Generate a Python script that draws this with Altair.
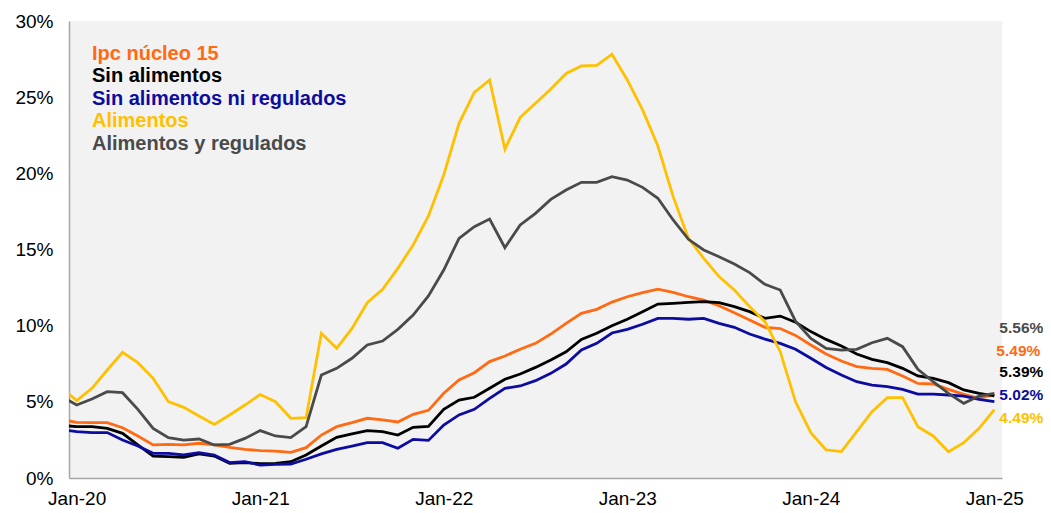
import altair as alt
import pandas as pd

# month index: -1 = Dec-19 (partly visible at the left edge), 0 = Jan-20 ... 60 = Jan-25
month_index = list(range(-1, 61))

nucleo = [3.83,
          3.65, 3.63, 3.63, 3.30, 2.76, 2.17, 2.21, 2.17, 2.28, 2.17, 2.01, 1.88,
          1.80, 1.77, 1.68, 1.99, 2.82, 3.37, 3.63, 3.92, 3.81, 3.68, 4.18, 4.44,
          5.56, 6.43, 6.91, 7.64, 8.01, 8.45, 8.84, 9.45, 10.15, 10.81, 11.07, 11.55,
          11.90, 12.17, 12.40, 12.19, 11.90, 11.68, 11.31, 10.85, 10.37, 9.89, 9.81, 9.36,
          8.73, 8.14, 7.68, 7.31, 7.20, 7.13, 6.70, 6.21, 6.17, 5.82, 5.49, 5.23,
          5.49]
sin_alimentos = [3.46,
                 3.37, 3.37, 3.26, 2.93, 2.17, 1.44, 1.40, 1.36, 1.58, 1.44, 0.96, 1.01,
                 0.95, 0.96, 1.07, 1.51, 2.10, 2.67, 2.89, 3.11, 3.04, 2.82, 3.33, 3.39,
                 4.51, 5.12, 5.30, 5.89, 6.48, 6.83, 7.26, 7.75, 8.29, 9.10, 9.50, 9.99,
                 10.42, 10.92, 11.42, 11.47, 11.53, 11.58, 11.51, 11.25, 10.92, 10.48, 10.63, 10.23,
                 9.61, 9.10, 8.67, 8.14, 7.79, 7.57, 7.20, 6.70, 6.54, 6.26, 5.78, 5.56,
                 5.39]
sin_alimentos_ni_regulados = [3.17,
                              3.04, 2.98, 2.98, 2.49, 2.10, 1.62, 1.62, 1.51, 1.66, 1.51, 1.01, 1.07,
                              0.85, 0.90, 0.92, 1.23, 1.58, 1.88, 2.10, 2.32, 2.32, 1.95, 2.54, 2.47,
                              3.48, 4.14, 4.51, 5.23, 5.89, 6.04, 6.39, 6.87, 7.48, 8.40, 8.84, 9.52,
                              9.76, 10.09, 10.48, 10.48, 10.42, 10.48, 10.15, 9.89, 9.45, 9.12, 8.84, 8.45,
                              7.86, 7.26, 6.76, 6.32, 6.10, 6.00, 5.82, 5.51, 5.51, 5.45, 5.38, 5.16,
                              5.02]
alimentos = [5.95,
             5.08, 5.89, 7.09, 8.25, 7.57, 6.54, 5.01, 4.64, 4.07, 3.52, 4.14, 4.79,
             5.48, 5.01, 3.92, 3.96, 9.50, 8.51, 9.82, 11.51, 12.39, 13.76, 15.30, 17.20,
             19.89, 23.28, 25.32, 26.13, 21.58, 23.68, 24.60, 25.54, 26.56, 27.05, 27.09, 27.82,
             26.13, 24.16, 21.79, 18.47, 15.73, 14.42, 13.22, 12.34, 11.25, 10.26, 8.29, 5.00,
             2.98, 1.84, 1.73, 3.04, 4.35, 5.27, 5.27, 3.37, 2.76, 1.73, 2.32, 3.26,
             4.49]
alimentos_y_regulados = [5.36,
                         4.79, 5.19, 5.67, 5.60, 4.51, 3.26, 2.65, 2.49, 2.56, 2.17, 2.21, 2.60,
                         3.11, 2.76, 2.65, 3.37, 6.76, 7.20, 7.86, 8.73, 8.99, 9.76, 10.70, 11.95,
                         13.65, 15.73, 16.50, 17.00, 15.12, 16.61, 17.37, 18.29, 18.91, 19.41, 19.41, 19.78,
                         19.56, 19.08, 18.36, 16.94, 15.67, 14.97, 14.53, 14.05, 13.48, 12.71, 12.34, 10.30,
                         9.17, 8.51, 8.40, 8.45, 8.88, 9.17, 8.62, 7.13, 6.32, 5.56, 4.90, 5.38,
                         5.56]

series_names = ["Ipc núcleo 15", "Sin alimentos", "Sin alimentos ni regulados",
                "Alimentos", "Alimentos y regulados"]
series_values = [nucleo, sin_alimentos, sin_alimentos_ni_regulados, alimentos, alimentos_y_regulados]
series_colors = ["#FF6A13", "#000000", "#0C0CA0", "#FFC000", "#4A4A4A"]

x_tick_values = [0, 12, 24, 36, 48, 60]
y_tick_values = [0, 0.05, 0.10, 0.15, 0.20, 0.25, 0.30]

rows = []
for k, (name, vals) in enumerate(zip(series_names, series_values)):
    for t, v in zip(month_index, vals):
        rows.append({"serie": name, "orden": k, "t": t, "v": v / 100.0})
df = pd.DataFrame(rows)
last = df[df["t"] == 60]

FONT = "Liberation Sans"

x_enc = alt.X("t:Q",
              scale=alt.Scale(domain=[-0.5, 60.5], nice=False, zero=False),
              axis=alt.Axis(values=x_tick_values,
                            labelExpr="'Jan-' + (20 + datum.value / 12)",
                            title=None, grid=False, ticks=False, tickSize=0,
                            labelPadding=11, labelFontSize=19, labelFont=FONT,
                            labelColor="#000000", domainColor="#A6A6A6", domainWidth=1.5,
                            labelFlush=False, labelOverlap=False))
y_enc = alt.Y("v:Q",
              scale=alt.Scale(domain=[0, 0.30], nice=False),
              axis=alt.Axis(values=y_tick_values, format=".0%", title=None, grid=False,
                            ticks=False, tickSize=0, labelPadding=16, labelFontSize=19,
                            labelFont=FONT, labelColor="#000000", domainColor="#A6A6A6",
                            domainWidth=1.5))
color_enc = alt.Color("serie:N",
                      scale=alt.Scale(domain=series_names, range=series_colors),
                      legend=None)

lines = alt.Chart(df).mark_line(strokeWidth=2.8, clip=True).encode(
    x=x_enc, y=y_enc, color=color_enc, order=alt.Order("t:Q")
)

layers = [lines]

# legend block at the upper left
legend_y = [32.5, 55, 77.5, 100, 122.5]
for name, col, yy in zip(series_names, series_colors, legend_y):
    layers.append(
        alt.Chart(pd.DataFrame({"label": [name]})).mark_text(
            align="left", baseline="middle", font=FONT, fontSize=20,
            fontWeight="bold", color=col
        ).encode(text="label:N", x=alt.value(23), y=alt.value(yy))
    )

# end-of-series value labels
end_offsets = {
    "Alimentos y regulados": (5, -65),
    "Ipc núcleo 15": (2, -43),
    "Sin alimentos": (5, -24),
    "Sin alimentos ni regulados": (5, -7),
    "Alimentos": (5, 8),
}
for name, col in zip(series_names, series_colors):
    dx, dy = end_offsets[name]
    layers.append(
        alt.Chart(last[last["serie"] == name]).mark_text(
            align="left", baseline="middle", font=FONT, fontSize=15.5,
            fontWeight="bold", color=col, dx=dx, dy=dy
        ).encode(x="t:Q", y="v:Q", text=alt.Text("v:Q", format=".2%"))
    )

chart = alt.layer(*layers).properties(
    width=933, height=457,
    autosize=alt.AutoSizeParams(type="none"),
    padding={"left": 61, "top": 13, "right": 41, "bottom": 35},
    background="#FFFFFF",
).configure_view(fill="#F2F2F2", stroke=None)

chart.save("out.html", embed_options={"renderer": "svg", "actions": False})
